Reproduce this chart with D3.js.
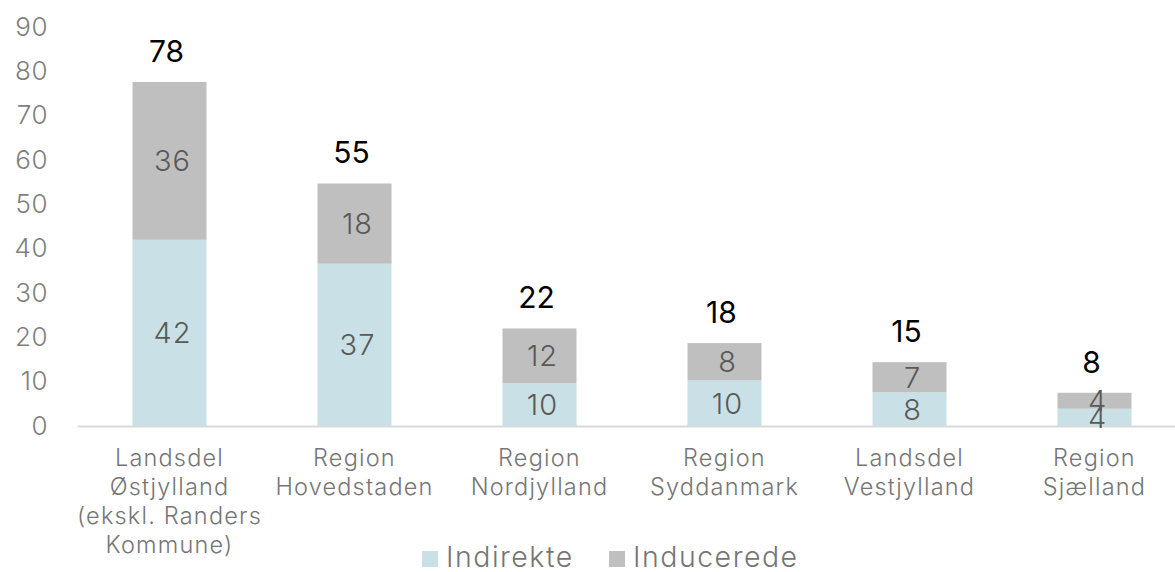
<!DOCTYPE html>
<html>
<head>
<meta charset="utf-8">
<script src="https://cdn.jsdelivr.net/npm/d3@7"></script>
<style>
  body { margin: 0; background: #fff; }
  text { font-family: Inter, "Open Sans", sans-serif; }
</style>
</head>
<body>
<div id="chart"></div>
<script>
const layout = {
  width: 1175,
  height: 572,
  left: 77,
  right: 1187,
  top: 27,
  bottom: 426
};

// data
const categories = [
  "Landsdel\nØstjylland\n(ekskl. Randers\nKommune)",
  "Region\nHovedstaden",
  "Region\nNordjylland",
  "Region\nSyddanmark",
  "Landsdel\nVestjylland",
  "Region\nSjælland"
];
const indirekte = [42.0, 36.6, 9.7, 10.3, 7.6, 3.9];
const inducerede = [35.6, 18.1, 12.3, 8.4, 6.8, 3.6];
const seriesNames = ["Indirekte", "Inducerede"];
const seriesColors = ["#c9e0e6", "#bfbfbf"];
const yTicks = [0, 10, 20, 30, 40, 50, 60, 70, 80, 90];

const rows = categories.map((c, i) => ({cat: c, Indirekte: indirekte[i], Inducerede: inducerede[i]}));
const stacked = d3.stack().keys(seriesNames)(rows);

const svg = d3.select("#chart").append("svg")
  .attr("width", layout.width)
  .attr("height", layout.height);

const x = d3.scaleBand()
  .domain(categories)
  .range([layout.left, layout.right])
  .paddingInner(0.6)
  .paddingOuter(0.3);

const y = d3.scaleLinear()
  .domain([0, 90])
  .range([layout.bottom, layout.top]);

// y axis labels only
const yAxis = svg.append("g")
  .attr("transform", `translate(${layout.left},0)`)
  .call(d3.axisLeft(y).tickValues(yTicks).tickSize(0).tickPadding(29));
yAxis.select(".domain").remove();
yAxis.selectAll("text")
  .attr("font-size", 26)
  .attr("font-weight", 300)
  .attr("fill", "#808080")
  .attr("letter-spacing", 0.5)
  .attr("font-family", "Inter, sans-serif");

// bars
svg.append("g").selectAll("g")
  .data(stacked)
  .join("g")
  .attr("fill", (d, i) => seriesColors[i])
  .selectAll("rect")
  .data(d => d)
  .join("rect")
  .attr("x", d => x(d.data.cat))
  .attr("y", d => y(d[1]))
  .attr("width", x.bandwidth())
  .attr("height", d => y(d[0]) - y(d[1]));

// baseline
const xAxis = svg.append("g")
  .attr("transform", `translate(0,${layout.bottom})`)
  .call(d3.axisBottom(x).tickSize(0).tickFormat(""));
xAxis.select(".domain").attr("stroke", "#d9d9d9").attr("stroke-width", 2);
xAxis.selectAll(".tick text").remove();

// category labels
const catLabels = svg.append("g").selectAll("text")
  .data(categories)
  .join("text")
  .attr("text-anchor", "middle")
  .attr("font-size", 23.5)
  .attr("font-weight", 300)
  .attr("letter-spacing", 1.2)
  .attr("fill", "#767676");
catLabels.selectAll("tspan")
  .data(d => d.split("\n").map(line => ({line, cat: d})))
  .join("tspan")
  .attr("x", d => x(d.cat) + x.bandwidth() / 2)
  .attr("y", (d, i) => 466 + i * 29)
  .text(d => d.line);

// segment labels
stacked.forEach(series => {
  svg.append("g").selectAll("text")
    .data(series)
    .join("text")
    .attr("x", d => x(d.data.cat) + x.bandwidth() / 2 + 3)
    .attr("y", d => (y(d[0]) + y(d[1])) / 2)
    .attr("dy", "0.36em")
    .attr("text-anchor", "middle")
    .attr("font-size", 29)
    .attr("font-weight", 300)
    .attr("letter-spacing", 1)
    .attr("fill", "#595959")
    .text(d => Math.round(d[1] - d[0]));
});

// totals: sum of the rounded parts
svg.append("g").selectAll("text")
  .data(rows)
  .join("text")
  .attr("x", d => x(d.cat) + x.bandwidth() / 2 - 3)
  .attr("y", d => y(d.Indirekte + d.Inducerede) - 20)
  .attr("text-anchor", "middle")
  .attr("font-size", 30)
  .attr("font-weight", 400)
  .attr("fill", "#000")
  .text(d => Math.round(d.Indirekte) + Math.round(d.Inducerede));

// legend
const legendItems = [
  {name: seriesNames[0], color: seriesColors[0], x: 422},
  {name: seriesNames[1], color: seriesColors[1], x: 609}
];
const legend = svg.append("g").selectAll("g")
  .data(legendItems)
  .join("g")
  .attr("transform", d => `translate(${d.x},551)`);
legend.append("rect")
  .attr("width", 16)
  .attr("height", 16)
  .attr("fill", d => d.color);
legend.append("text")
  .attr("x", 24)
  .attr("y", 16)
  .attr("font-size", 28.5)
  .attr("font-weight", 300)
  .attr("letter-spacing", 1.5)
  .attr("fill", "#767676")
  .text(d => d.name);
</script>
</body>
</html>
